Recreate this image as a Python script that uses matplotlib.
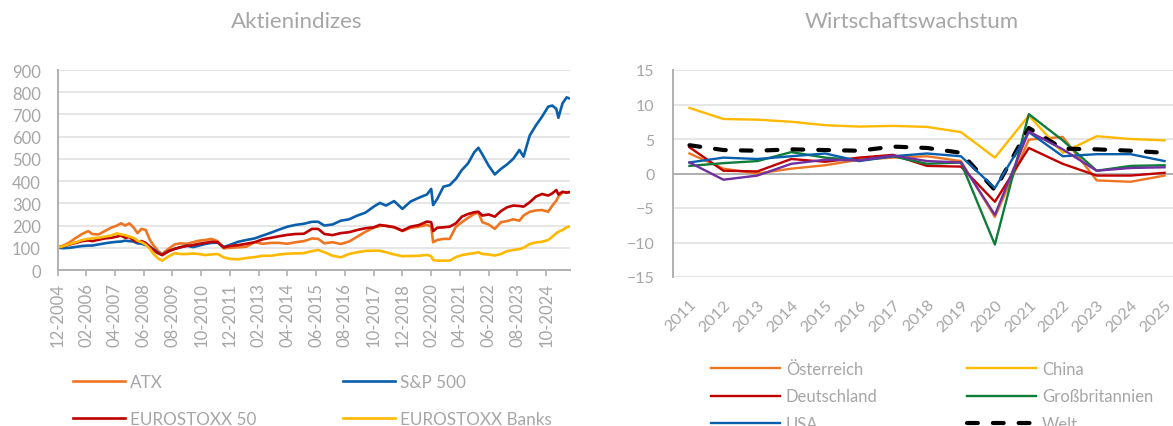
import matplotlib
matplotlib.use("Agg")
import matplotlib.pyplot as plt
import pandas as pd

plt.rcParams['font.family'] = ['Lato', 'DejaVu Sans']

# ---------------- data: stock indices (index, 12-2004 = 100) ----------------
dates = ["2004-12", "2005-03", "2005-06", "2005-09", "2005-12",
         "2006-03", "2006-05", "2006-08", "2006-11",
         "2007-02", "2007-05", "2007-07", "2007-09", "2007-11",
         "2008-01", "2008-03", "2008-05", "2008-07", "2008-09", "2008-11",
         "2009-01", "2009-03", "2009-06", "2009-09", "2009-12",
         "2010-03", "2010-06", "2010-09", "2010-12",
         "2011-03", "2011-06", "2011-09", "2011-12",
         "2012-04", "2012-08", "2012-12",
         "2013-04", "2013-08", "2013-12",
         "2014-04", "2014-08", "2014-12",
         "2015-04", "2015-07", "2015-10",
         "2016-02", "2016-06", "2016-10",
         "2017-02", "2017-06", "2017-10",
         "2018-01", "2018-04", "2018-08", "2018-12",
         "2019-04", "2019-08", "2019-12",
         "2020-02", "2020-03", "2020-05", "2020-08", "2020-11",
         "2021-02", "2021-05", "2021-08", "2021-11",
         "2022-01", "2022-03", "2022-06", "2022-09", "2022-12",
         "2023-03", "2023-06", "2023-09", "2023-11",
         "2024-02", "2024-05", "2024-08", "2024-11",
         "2025-01", "2025-03", "2025-04", "2025-06", "2025-08", "2025-09"]

atx = [100, 110, 125, 145, 162,
       175, 162, 160, 175,
       190, 200, 210, 200, 210,
       192, 166, 185, 180, 135, 108,
       85, 72, 95, 115, 120,
       118, 125, 132, 135,
       140, 130, 97, 100,
       102, 105, 125,
       118, 122, 122,
       118, 125, 130,
       142, 140, 120,
       125, 117, 128,
       150, 172, 190,
       198, 200, 192, 175,
       190, 195, 203,
       195, 125, 135, 140, 140,
       195, 215, 235, 252,
       258, 215, 205, 185, 215,
       220, 228, 222, 245,
       262, 268, 270, 262,
       290, 312, 330, 350, 350, 350]

sp500 = [100, 98, 100, 104, 108,
         110, 110, 115, 120,
         124, 127, 128, 132, 130,
         128, 120, 118, 112, 103, 92,
         78, 68, 84, 95, 102,
         110, 103, 110, 117,
         122, 123, 103, 113,
         127, 135, 142,
         155, 168, 182,
         195, 203, 208,
         217, 217, 200,
         205, 222, 228,
         245, 258, 285,
         302, 290, 310, 275,
         308, 325, 340,
         365, 292, 320, 375, 382,
         410, 450, 480, 530,
         550, 520, 470, 430, 455,
         475, 500, 540, 510,
         605, 650, 690, 735,
         740, 725, 685, 750, 777, 773]

eurostoxx50 = [100, 108, 115, 122, 130,
               133, 130, 136, 142,
               145, 150, 155, 145, 148,
               133, 128, 130, 122, 105, 88,
               75, 67, 84, 95, 103,
               108, 112, 118, 122,
               127, 125, 102, 108,
               112, 118, 125,
               138, 145, 152,
               158, 162, 163,
               185, 185, 162,
               157, 166, 170,
               180, 188, 192,
               203, 198, 193, 177,
               195, 202, 218,
               215, 175, 190, 192, 195,
               210, 240, 252, 260,
               262, 245, 250, 240, 265,
               282, 290, 288, 285,
               305, 330, 342, 335,
               345, 360, 340, 352, 348, 350]

eurostoxx_banks = [100, 108, 117, 125, 135,
                   140, 143, 145, 150,
                   155, 165, 160, 157, 150,
                   145, 132, 125, 114, 95, 70,
                   52, 42, 60, 76, 72,
                   72, 74, 72, 67,
                   70, 72, 57, 50,
                   48, 54, 58,
                   64, 64, 70,
                   73, 75, 76,
                   85, 90, 80,
                   64, 57, 72,
                   80, 86, 87,
                   87, 80, 70, 62,
                   63, 64, 68,
                   62, 45, 42, 42, 42,
                   58, 67, 72, 76,
                   80, 72, 70, 65, 72,
                   85, 90, 94, 100,
                   117, 124, 127, 135,
                   150, 165, 172, 180, 192, 195]

# ---------------- data: GDP growth (%) ----------------
years = [2011, 2012, 2013, 2014, 2015, 2016, 2017, 2018, 2019, 2020,
         2021, 2022, 2023, 2024, 2025]
oesterreich = [2.9, 0.7, 0.0, 0.7, 1.2, 2.0, 2.3, 2.5, 1.8, -6.3, 4.9, 5.3, -1.0, -1.2, -0.3]
china = [9.5, 7.9, 7.8, 7.5, 7.0, 6.8, 6.9, 6.75, 6.0, 2.3, 8.4, 3.0, 5.4, 5.0, 4.8]
deutschland = [3.8, 0.4, 0.3, 2.1, 1.7, 2.3, 2.7, 1.1, 1.0, -4.1, 3.7, 1.4, -0.3, -0.3, 0.1]
grossbritannien = [1.1, 1.5, 1.8, 3.1, 2.3, 1.9, 2.5, 1.4, 1.6, -10.3, 8.6, 4.8, 0.4, 1.1, 1.2]
usa = [1.6, 2.3, 2.1, 2.5, 2.9, 1.8, 2.5, 2.9, 2.5, -2.1, 6.0, 2.5, 2.8, 2.8, 1.8]
welt = [4.1, 3.4, 3.3, 3.5, 3.4, 3.3, 3.9, 3.7, 3.0, -2.4, 6.6, 3.6, 3.5, 3.3, 3.0]
euroraum = [1.6, -0.9, -0.3, 1.4, 2.0, 1.9, 2.6, 1.8, 1.6, -6.0, 6.1, 3.5, 0.4, 0.8, 0.9]

# ---------------- style ----------------
C_ORANGE = '#EE7623'
C_BLUE = '#0A5FAD'
C_RED = '#C00000'
C_YELLOW = '#FFB900'
C_GREEN = '#107C3A'
C_PURPLE = '#7030A0'
TXT = '#A6A6A6'
GRID = '#E6E6E6'
SPINE = '#B0B0B0'

W, H = 1173, 427
fig = plt.figure(figsize=(W / 100, H / 100), dpi=100)

def fx(px):
    return px / W

def fy(py):
    return 1 - py / H

# ================= left chart =================
axL = fig.add_axes([fx(57.5), fy(271), fx(570 - 57.5), (271 - 71) / H])
t = pd.to_datetime(dates)
axL.plot(t, atx, color=C_ORANGE, lw=1.9, label='ATX')
axL.plot(t, sp500, color=C_BLUE, lw=1.9, label='S&P 500')
axL.plot(t, eurostoxx50, color=C_RED, lw=1.9, label='EUROSTOXX 50')
axL.plot(t, eurostoxx_banks, color=C_YELLOW, lw=1.9, label='EUROSTOXX Banks')

axL.set_ylim(0, 900)
axL.set_yticks(range(0, 901, 100))
axL.set_xlim(pd.Timestamp('2004-12-01'), pd.Timestamp('2025-09-20'))
xt = pd.date_range('2004-12-01', periods=18, freq='14MS')
axL.set_xticks(xt)
axL.set_xticklabels([d.strftime('%m-%Y') for d in xt], rotation=90)
axL.grid(axis='y', color=GRID, lw=1.4)
axL.set_axisbelow(True)
for s in ['top', 'right']:
    axL.spines[s].set_visible(False)
for s in ['left', 'bottom']:
    axL.spines[s].set_color(SPINE)
    axL.spines[s].set_linewidth(1.4)
axL.tick_params(axis='y', length=0, pad=12, labelsize=12, labelcolor=TXT)
axL.tick_params(axis='x', length=4.5, width=1.2, color=SPINE, direction='out',
                pad=4, labelsize=12, labelcolor=TXT)

fig.text(fx(297), fy(22), 'Aktienindizes', ha='center', va='center',
         fontsize=16, color=TXT)

hL, lL = axL.get_legend_handles_labels()
leg_kw = dict(frameon=False, borderpad=0, borderaxespad=0, loc='upper left',
              labelcolor=TXT)
fig.legend([hL[0], hL[2]], [lL[0], lL[2]], bbox_to_anchor=(fx(73), fy(375)),
           fontsize=12.3, handlelength=3.06, handletextpad=0.3, labelspacing=1.23,
           **leg_kw)
fig.legend([hL[1], hL[3]], [lL[1], lL[3]], bbox_to_anchor=(fx(343), fy(375)),
           fontsize=12.3, handlelength=3.06, handletextpad=0.3, labelspacing=1.23,
           **leg_kw)

# ================= right chart =================
axR = fig.add_axes([fx(672.5), fy(278), fx(509), (278 - 71) / H])
axR.plot(years, oesterreich, color=C_ORANGE, lw=1.7, label='Österreich')
axR.plot(years, china, color=C_YELLOW, lw=1.7, label='China')
axR.plot(years, deutschland, color=C_RED, lw=1.7, label='Deutschland')
axR.plot(years, grossbritannien, color=C_GREEN, lw=1.7, label='Großbritannien')
axR.plot(years, welt, color='black', lw=3, ls=(0, (2.6, 3.6)),
         dash_capstyle='round', label='Welt')
axR.plot(years, usa, color=C_BLUE, lw=1.7, label='USA')
axR.plot(years, euroraum, color=C_PURPLE, lw=1.7, label='_nolegend_')

axR.set_xlim(2010.5, 2025.5)
axR.set_ylim(-15, 15)
axR.set_yticks(range(-15, 16, 5))
axR.set_xticks(years)
axR.set_xticklabels([str(y) for y in years], rotation=45, ha='right', va='top',
                    rotation_mode='anchor')
axR.grid(axis='y', color=GRID, lw=1.4)
axR.axhline(0, color=SPINE, lw=1.4, zorder=1.5)
axR.set_axisbelow(True)
for s in ['top', 'right', 'bottom']:
    axR.spines[s].set_visible(False)
axR.spines['left'].set_color(SPINE)
axR.spines['left'].set_linewidth(1.4)
axR.tick_params(axis='y', length=0, pad=13, labelsize=11.5, labelcolor=TXT)
axR.tick_params(axis='x', length=0, pad=14.4, labelsize=11.8, labelcolor=TXT)

fig.text(fx(912), fy(22), 'Wirtschaftswachstum', ha='center', va='center',
         fontsize=16, color=TXT)

hR, lR = axR.get_legend_handles_labels()
idx = {l: h for h, l in zip(hR, lR)}
col1 = ['Österreich', 'Deutschland', 'USA']
col2 = ['China', 'Großbritannien', 'Welt']
fig.legend([idx[k] for k in col1], col1, bbox_to_anchor=(fx(711), fy(362)),
           fontsize=12, handlelength=4.13, handletextpad=0.36, labelspacing=0.69,
           **leg_kw)
fig.legend([idx[k] for k in col2], col2, bbox_to_anchor=(fx(967), fy(362)),
           fontsize=12, handlelength=4.13, handletextpad=0.36, labelspacing=0.69,
           **leg_kw)

fig.savefig('out.png', dpi=100)
